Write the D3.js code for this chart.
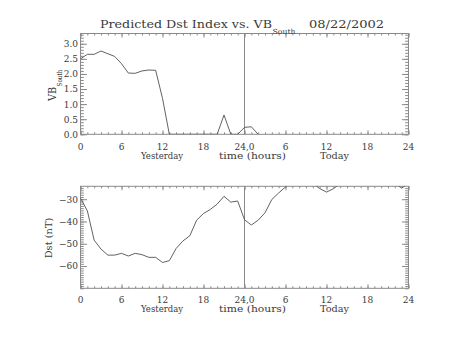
<!DOCTYPE html>
<html>
<head>
<meta charset="utf-8">
<script src="https://cdn.jsdelivr.net/npm/d3@7"></script>
<style>
  html, body { margin: 0; padding: 0; background: #fff; }
  svg { display: block; }
  text { font-family: "DejaVu Serif", "Liberation Serif", serif; fill: #3a3a3a; }
</style>
</head>
<body>
<svg id="chart" width="453" height="340"></svg>
<script>
// Hours since start of yesterday (0..48)
const vbHours = [0, 1, 2, 3, 5, 6, 7, 8, 9, 10, 11, 12, 13, 14, 15, 16, 17, 18, 19, 20, 21, 22, 23, 24, 25, 26];
// Southward VB values
const vbValues = [2.50, 2.65, 2.65, 2.76, 2.58, 2.34, 2.03, 2.02, 2.10, 2.13, 2.12, 1.19, 0, 0, 0, 0, 0, 0, 0, 0, 0.64, 0, 0, 0.23, 0.25, 0];

const dstHours = [0, 1, 2, 3, 4, 5, 6, 7, 8, 9, 10, 11, 12, 13, 14, 15, 16, 17, 18, 19, 20, 21, 22, 23, 24, 25, 26, 27, 28, 29, 30, 31, 32, 33, 34, 35, 36, 37, 38, 39, 40, 41, 42, 43, 44, 45, 46, 47, 48];
// Predicted Dst (nT)
const dstValues = [-29.5, -35.2, -48.4, -52.4, -55.1, -55.1, -54.3, -55.5, -54.3, -54.9, -56.1, -56.1, -58.4, -57.6, -52.1, -48.7, -46.4, -39.4, -36.4, -34.6, -32.2, -28.7, -31.3, -30.8, -39.2, -41.6, -39.4, -36.1, -30.1, -27.2, -24.5, -22, -20, -21, -23, -25.2, -26.8, -25.3, -23, -21, -20, -19, -19, -20, -21, -22, -23, -25, -23];

const xTickValues = [0, 6, 12, 18, 24, 30, 36, 42, 48];
const xTickLabels = ["0", "6", "12", "18", "24,0", "6", "12", "18", "24"];
const vbTicks = [0, 0.5, 1.0, 1.5, 2.0, 2.5, 3.0];
const dstTicks = [-60, -50, -40, -30];

const svg = d3.select("#chart");
const axisColor = "#8a8a8a";
const lineColor = "#505050";
const left = 80.5, right = 408.5;

const x = d3.scaleLinear().domain([0, 48]).range([left, right]);

function panel(cfg) {
  const y = d3.scaleLinear().domain(cfg.domain).range([cfg.bottom, cfg.top]);
  const g = svg.append("g");

  const clipId = "clip" + cfg.id;
  svg.append("clipPath").attr("id", clipId)
    .append("rect").attr("x", left).attr("y", cfg.top)
    .attr("width", right - left).attr("height", cfg.bottom - cfg.top);

  // frame
  g.append("rect").attr("x", left).attr("y", cfg.top)
    .attr("width", right - left).attr("height", cfg.bottom - cfg.top)
    .attr("fill", "none").attr("stroke", axisColor).attr("stroke-width", 1);

  const styleAxis = sel => {
    sel.select(".domain").remove();
    sel.selectAll(".tick line").attr("stroke", axisColor);
  };

  // x minor ticks (bottom and top)
  const xMinor = d3.range(0, 49, 1);
  g.append("g").attr("transform", `translate(0,${cfg.bottom})`)
    .call(d3.axisBottom(x).tickValues(xMinor).tickSize(-2).tickFormat(""))
    .call(styleAxis);
  g.append("g").attr("transform", `translate(0,${cfg.top})`)
    .call(d3.axisTop(x).tickValues(xMinor).tickSize(-2).tickFormat(""))
    .call(styleAxis);
  // x major ticks
  g.append("g").attr("transform", `translate(0,${cfg.bottom})`)
    .call(d3.axisBottom(x).tickValues(xTickValues).tickSize(-4).tickFormat(""))
    .call(styleAxis);
  g.append("g").attr("transform", `translate(0,${cfg.top})`)
    .call(d3.axisTop(x).tickValues(xTickValues).tickSize(-4).tickFormat(""))
    .call(styleAxis);
  // x labels
  g.selectAll("text.xl").data(xTickValues).enter().append("text")
    .attr("class", "xl")
    .attr("x", d => x(d)).attr("y", cfg.xLabelY)
    .attr("text-anchor", "middle").attr("font-size", 9)
    .text((d, i) => xTickLabels[i]);

  // y minor ticks
  g.append("g").attr("transform", `translate(${left},0)`)
    .call(d3.axisLeft(y).tickValues(cfg.minor).tickSize(-3.3).tickFormat(""))
    .call(styleAxis);
  g.append("g").attr("transform", `translate(${right},0)`)
    .call(d3.axisRight(y).tickValues(cfg.minor).tickSize(-3.3).tickFormat(""))
    .call(styleAxis);
  // y major ticks with labels
  g.append("g").attr("transform", `translate(${left},0)`)
    .call(d3.axisLeft(y).tickValues(cfg.ticks).tickSize(-6.5).tickPadding(2.5).tickFormat(cfg.fmt))
    .call(styleAxis)
    .call(s => s.selectAll("text").attr("font-size", 9).attr("fill", "#3a3a3a")
      .attr("font-family", '"DejaVu Serif", serif'));
  g.append("g").attr("transform", `translate(${right},0)`)
    .call(d3.axisRight(y).tickValues(cfg.ticks).tickSize(-6.5).tickFormat(""))
    .call(styleAxis);

  // divider at 24 h
  g.append("line").attr("x1", x(24)).attr("x2", x(24))
    .attr("y1", cfg.top).attr("y2", cfg.bottom)
    .attr("stroke", axisColor).attr("stroke-width", 1);

  // data line
  const line = d3.line().x((d, i) => x(cfg.hours[i])).y(d => y(d));
  g.append("path").datum(cfg.values)
    .attr("clip-path", `url(#${clipId})`)
    .attr("d", line).attr("fill", "none")
    .attr("stroke", lineColor).attr("stroke-width", 0.9);

  // x-axis title pieces
  const ty = cfg.xTitleY;
  g.append("text").attr("x", 162).attr("y", ty).attr("text-anchor", "middle")
    .attr("font-size", 9).attr("textLength", 42).attr("lengthAdjust", "spacingAndGlyphs").text("Yesterday");
  g.append("text").attr("x", 252.5).attr("y", ty).attr("text-anchor", "middle")
    .attr("font-size", 9).attr("textLength", 67).attr("lengthAdjust", "spacingAndGlyphs").text("time (hours)");
  g.append("text").attr("x", 334.5).attr("y", ty).attr("text-anchor", "middle")
    .attr("font-size", 9).attr("textLength", 29).attr("lengthAdjust", "spacingAndGlyphs").text("Today");
  return y;
}

panel({
  id: "vb", top: 33.5, bottom: 134.3, domain: [0, 3.34],
  ticks: vbTicks, minor: d3.range(0, 3.35, 0.1), fmt: d3.format(".1f"),
  hours: vbHours, values: vbValues, xLabelY: 150.3, xTitleY: 159.3
});
panel({
  id: "dst", top: 186.3, bottom: 288.3, domain: [-70, -24.2],
  ticks: dstTicks, minor: d3.range(-70, -24, 1), fmt: d3.format("d"),
  hours: dstHours, values: dstValues, xLabelY: 302.5, xTitleY: 312
});

// Title
svg.append("text").attr("x", 100).attr("y", 28).attr("font-size", 11)
  .attr("textLength", 172).attr("lengthAdjust", "spacingAndGlyphs")
  .text("Predicted Dst Index vs. VB");
svg.append("text").attr("x", 272.5).attr("y", 33.5).attr("font-size", 7)
  .attr("textLength", 23).attr("lengthAdjust", "spacingAndGlyphs").text("South");
svg.append("text").attr("x", 309).attr("y", 28).attr("font-size", 11)
  .attr("textLength", 75).attr("lengthAdjust", "spacingAndGlyphs").text("08/22/2002");

// Y-axis titles
svg.append("text").attr("transform", "translate(55.5,101) rotate(-90)")
  .attr("font-size", 10.5).attr("textLength", 14.3).attr("lengthAdjust", "spacingAndGlyphs").text("VB");
svg.append("text").attr("transform", "translate(62,86.5) rotate(-90)")
  .attr("font-size", 7).attr("textLength", 17).attr("lengthAdjust", "spacingAndGlyphs").text("South");
svg.append("text").attr("transform", "translate(51.7,238) rotate(-90)")
  .attr("text-anchor", "middle").attr("font-size", 10)
  .attr("textLength", 40.6).attr("lengthAdjust", "spacingAndGlyphs").text("Dst (nT)");
</script>
</body>
</html>
